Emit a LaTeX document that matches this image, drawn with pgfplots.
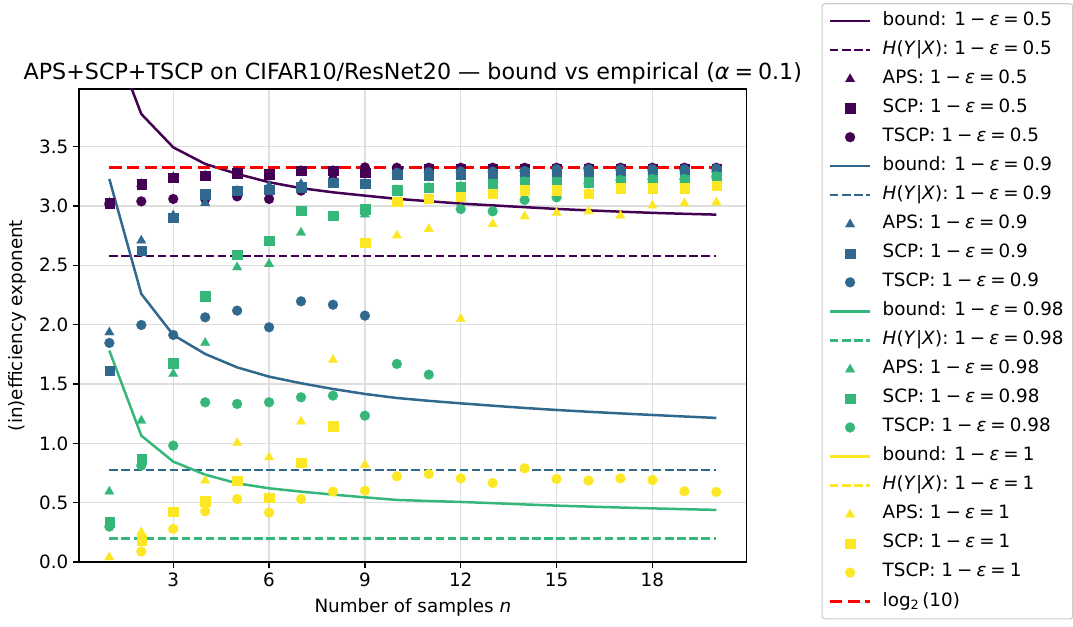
\documentclass[border=0pt]{standalone}
\usepackage{pgfplots}
\pgfplotsset{compat=1.18}
\usepackage{pgfplotstable}
\usepackage{fontspec}
\setmainfont{DejaVu Sans}
\definecolor{cP}{HTML}{440154}
\definecolor{cB}{HTML}{31688E}
\definecolor{cG}{HTML}{35B779}
\definecolor{cY}{HTML}{FDE725}
\definecolor{gridc}{HTML}{DEDEDE}
\newcommand{\ceq}[1]{1\hspace{0.22em}−\hspace{0.22em}\textit{ε}\hspace{0.22em}=\hspace{0.22em}#1}
\newcommand{\HYX}{\textit{H}(\textit{Y}|\textit{X})}

% purple: 1-eps = 0.5
\pgfplotstableread{
n bound H aps scp tscp
1 4.48 2.579 3.025 3.025 3.02
2 3.775 2.579 3.185 3.185 3.039
3 3.494 2.579 3.241 3.241 3.059
4 3.354 2.579 3.255 3.255 3.059
5 3.27 2.579 3.278 3.278 3.081
6 3.20 2.579 3.269 3.269 3.059
7 3.15 2.579 3.297 3.297 3.129
8 3.115 2.579 3.297 3.297 3.22
9 3.087 2.579 3.283 3.283 3.325
10 3.06 2.579 3.30 3.30 3.322
11 3.04 2.579 3.31 3.31 3.322
12 3.02 2.579 3.31 3.31 3.322
13 3.005 2.579 3.31 3.31 3.322
14 2.99 2.579 3.31 3.31 3.322
15 2.975 2.579 3.315 3.315 3.322
16 2.963 2.579 3.315 3.315 3.322
17 2.952 2.579 3.315 3.315 3.322
18 2.942 2.579 3.315 3.315 3.322
19 2.934 2.579 3.315 3.315 3.322
20 2.927 2.579 3.315 3.315 3.322
}\tP
% blue: 1-eps = 0.9
\pgfplotstableread{
n bound H aps scp tscp
1 3.227 0.776 1.935 1.612 1.846
2 2.259 0.776 2.708 2.623 1.997
3 1.913 0.776 2.92 2.904 1.913
4 1.753 0.776 3.025 3.101 2.062
5 1.640 0.776 3.129 3.129 2.118
6 1.562 0.776 3.17 3.14 1.978
7 1.506 0.776 3.185 3.160 2.197
8 1.458 0.776 3.199 3.199 2.168
9 1.416 0.776 3.19 3.19 2.076
10 1.382 0.776 3.265 3.265 3.28
11 1.358 0.776 3.255 3.255 3.285
12 1.337 0.776 3.27 3.27 3.29
13 1.317 0.776 3.27 3.27 3.29
14 1.298 0.776 3.28 3.28 3.295
15 1.281 0.776 3.29 3.29 3.31
16 1.266 0.776 3.29 3.29 3.31
17 1.252 0.776 3.29 3.29 3.31
18 1.239 0.776 3.29 3.29 3.31
19 1.226 0.776 3.29 3.29 3.31
20 1.214 0.776 3.30 3.30 3.315
}\tB
% green: 1-eps = 0.98
\pgfplotstableread{
n bound H aps scp tscp
1 1.781 0.197 0.593 0.335 0.298
2 1.065 0.197 1.191 0.868 0.812
3 0.846 0.197 1.585 1.677 0.981
4 0.736 0.197 1.846 2.239 1.346
5 0.663 0.197 2.483 2.590 1.332
6 0.621 0.197 2.511 2.708 1.346
7 0.593 0.197 2.775 2.960 1.388
8 0.568 0.197 2.90 2.918 1.402
9 0.545 0.197 2.927 2.974 1.233
10 0.523 0.197 3.134 3.134 1.669
11 0.514 0.197 3.157 3.157 1.579
12 0.506 0.197 3.165 3.165 2.974
13 0.496 0.197 3.185 3.185 2.955
14 0.485 0.197 3.207 3.207 3.050
15 0.475 0.197 3.20 3.20 3.073
16 0.467 0.197 3.20 3.20 3.19
17 0.459 0.197 3.213 3.213 3.219
18 0.452 0.197 3.22 3.22 3.227
19 0.445 0.197 3.22 3.22 3.227
20 0.439 0.197 3.25 3.25 3.250
}\tG
% yellow: 1-eps = 1
\pgfplotstableread{
n aps scp tscp
1 0.04 nan nan
2 0.25 0.186 0.088
3 0.28 0.427 0.279
4 0.686 0.512 0.427
5 1.003 0.686 0.531
6 0.882 0.545 0.416
7 1.183 0.840 0.531
8 1.703 1.146 0.593
9 0.818 2.693 0.601
10 2.750 3.036 0.722
11 2.806 3.064 0.742
12 2.048 3.081 0.705
13 2.848 3.106 0.666
14 2.913 3.134 0.790
15 2.941 3.134 0.700
16 2.955 3.106 0.686
17 2.918 3.151 0.705
18 3.003 3.151 0.691
19 3.022 3.150 0.596
20 3.030 3.171 0.590
}\tY
% log2(10)
\pgfplotstableread{
n v
1 3.3219
20 3.3219
}\tR

\pgfplotsset{
  bnd/.style={solid, line width=1.8pt, color=#1},
  hln/.style={dash pattern=on 6pt off 2.7pt, line width=1.8pt, color=#1},
  tri/.style={only marks, color=#1, mark=triangle*, mark size=4pt, mark options={solid, fill=#1, draw=#1, line width=0.1pt}},
  sqr/.style={only marks, color=#1, mark=square*, mark size=3.4pt, mark options={solid, fill=#1, draw=#1, line width=0.1pt}},
  cir/.style={only marks, color=#1, mark=*, mark size=3.6pt, mark options={solid, fill=#1, draw=#1, line width=0.1pt}},
  rln/.style={color=red, dash pattern=on 8.9pt off 3.8pt, line width=2.4pt},
}

\begin{document}
\begin{tikzpicture}
\begin{axis}[
  name=ax,
  scale only axis,
  width=480.7pt, height=340.6pt,
  xmin=0.05, xmax=20.95, ymin=0, ymax=3.986,
  xtick={3,6,9,12,15,18},
  ytick={0,0.5,1,1.5,2,2.5,3,3.5},
  yticklabel style={/pgf/number format/.cd, fixed, fixed zerofill, precision=1},
  /pgf/number format/assume math mode=true,
  ticklabel style={font=\fontsize{13.2}{15}\selectfont},
  tick align=outside, tick pos=left,
  major tick length=4.2pt,
  tick style={black, line width=1pt},
  axis line style={black, line width=1pt},
  grid=major,
  grid style={gridc, line width=1pt},
  title={APS+SCP+TSCP on CIFAR10/ResNet20 — bound vs empirical (\textit{α}\hspace{0.22em}=\hspace{0.22em}0.1)},
  title style={font=\fontsize{16}{19}\selectfont, yshift=-6pt},
  xlabel={Number of samples \textit{n}},
  ylabel={(in)efficiency exponent},
  label style={font=\fontsize{13.2}{15}\selectfont},
  xlabel style={yshift=-2pt},
  ylabel style={yshift=2pt},
  legend image code/.code={\draw[mark repeat=2,mark phase=2,#1] plot coordinates {(0pt,0pt) (14.4pt,0pt) (28.8pt,0pt)};},
  legend cell align=left,
  legend style={at={(1.1123,1.1812)}, anchor=north west, draw=black!20, rounded corners=2pt, line width=0.8pt, fill=white,
    font=\fontsize{13.2}{15}\selectfont, inner xsep=4.5pt, inner ysep=2pt, row sep=0pt,
    nodes={inner sep=2pt, text height=11.6pt, text depth=5.3pt},
    /tikz/every odd column/.style={column sep=5.9pt}},
]
% lines
\addplot[bnd=cP, forget plot] table[x=n,y=bound]{\tP};
\addplot[hln=cP, forget plot] table[x=n,y=H]{\tP};
\addplot[bnd=cB, forget plot] table[x=n,y=bound]{\tB};
\addplot[hln=cB, forget plot] table[x=n,y=H]{\tB};
\addplot[bnd=cG, forget plot] table[x=n,y=bound]{\tG};
\addplot[hln=cG, forget plot] table[x=n,y=H]{\tG};
\addplot[rln, forget plot] table[x=n,y=v]{\tR};
% markers
\addplot[tri=cP, forget plot] table[x=n,y=aps]{\tP};
\addplot[sqr=cP, forget plot] table[x=n,y=scp]{\tP};
\addplot[cir=cP, forget plot] table[x=n,y=tscp]{\tP};
\addplot[tri=cB, forget plot] table[x=n,y=aps]{\tB};
\addplot[sqr=cB, forget plot] table[x=n,y=scp]{\tB};
\addplot[cir=cB, forget plot] table[x=n,y=tscp]{\tB};
\addplot[tri=cG, forget plot] table[x=n,y=aps]{\tG};
\addplot[sqr=cG, forget plot] table[x=n,y=scp]{\tG};
\addplot[cir=cG, forget plot] table[x=n,y=tscp]{\tG};
\addplot[tri=cY, forget plot] table[x=n,y=aps]{\tY};
\addplot[sqr=cY, forget plot] table[x=n,y=scp]{\tY};
\addplot[cir=cY, forget plot] table[x=n,y=tscp]{\tY};
% legend
\addlegendimage{bnd=cP}\addlegendentry{bound: \ceq{0.5}}
\addlegendimage{hln=cP}\addlegendentry{\HYX: \ceq{0.5}}
\addlegendimage{tri=cP}\addlegendentry{APS: \ceq{0.5}}
\addlegendimage{sqr=cP}\addlegendentry{SCP: \ceq{0.5}}
\addlegendimage{cir=cP}\addlegendentry{TSCP: \ceq{0.5}}
\addlegendimage{bnd=cB}\addlegendentry{bound: \ceq{0.9}}
\addlegendimage{hln=cB}\addlegendentry{\HYX: \ceq{0.9}}
\addlegendimage{tri=cB}\addlegendentry{APS: \ceq{0.9}}
\addlegendimage{sqr=cB}\addlegendentry{SCP: \ceq{0.9}}
\addlegendimage{cir=cB}\addlegendentry{TSCP: \ceq{0.9}}
\addlegendimage{bnd=cG}\addlegendentry{bound: \ceq{0.98}}
\addlegendimage{hln=cG}\addlegendentry{\HYX: \ceq{0.98}}
\addlegendimage{tri=cG}\addlegendentry{APS: \ceq{0.98}}
\addlegendimage{sqr=cG}\addlegendentry{SCP: \ceq{0.98}}
\addlegendimage{cir=cG}\addlegendentry{TSCP: \ceq{0.98}}
\addlegendimage{bnd=cY}\addlegendentry{bound: \ceq{1}}
\addlegendimage{hln=cY}\addlegendentry{\HYX: \ceq{1}}
\addlegendimage{tri=cY}\addlegendentry{APS: \ceq{1}}
\addlegendimage{sqr=cY}\addlegendentry{SCP: \ceq{1}}
\addlegendimage{cir=cY}\addlegendentry{TSCP: \ceq{1}}
\addlegendimage{rln}\addlegendentry{log\textsubscript{2}\hspace{0.15em}(10)}
\end{axis}
\pgfresetboundingbox
\path[use as bounding box] ([shift={(-56.88pt,-46.08pt)}]ax.south west) rectangle ([shift={(715.68pt,404.64pt)}]ax.south west);
\end{tikzpicture}
\end{document}
